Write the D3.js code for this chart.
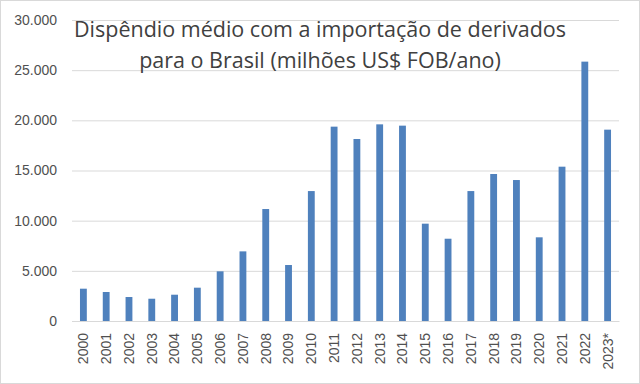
<!DOCTYPE html>
<html>
<head>
<meta charset="utf-8">
<script src="https://cdn.jsdelivr.net/npm/d3@7"></script>
<style>
  body { margin: 0; background: #fff; }
  svg { display: block; }
</style>
</head>
<body>
<svg id="chart" width="640" height="384"></svg>
<script>
// data
var years = ["2000", "2001", "2002", "2003", "2004", "2005", "2006", "2007", "2008", "2009", "2010", "2011",
             "2012", "2013", "2014", "2015", "2016", "2017", "2018", "2019", "2020", "2021", "2022", "2023*"];
var spend = [3220, 2890, 2390, 2220, 2620, 3320, 4950, 6940, 11160, 5580, 12950, 19370,
             18140, 19600, 19470, 9700, 8200, 12950, 14650, 14050, 8340, 15380, 25850, 19070];
var yTicks = [0, 5000, 10000, 15000, 20000, 25000, 30000];
var titleLines = ["Dispêndio médio com a importação de derivados", "para o Brasil (milhões US$ FOB/ano)"];

var svg = d3.select("#chart");
var W = 640, H = 384;
var m = { left: 72, right: 21, top: 20, bottom: 63 };

// outer chart border
svg.append("rect")
    .attr("x", 0.5).attr("y", 0.5)
    .attr("width", W - 1).attr("height", H - 1)
    .attr("fill", "#fff").attr("stroke", "#d9d9d9");

var x = d3.scaleBand().domain(years).range([m.left, W - m.right]).paddingInner(0.7).paddingOuter(0.35);
var y = d3.scaleLinear().domain([0, 30000]).range([H - m.bottom, m.top]);

var fmt = function (d) { return d === 0 ? "0" : d3.format(",")(d).replace(/,/g, "."); };

// gridlines + y labels
var yAxis = svg.append("g")
    .attr("transform", "translate(" + m.left + ",0)")
    .call(d3.axisLeft(y).tickValues(yTicks).tickSize(-(W - m.left - m.right)).tickPadding(15).tickFormat(fmt));
yAxis.select(".domain").remove();
yAxis.selectAll("line").attr("stroke", "#d9d9d9");
yAxis.selectAll("text")
    .attr("fill", "#505050")
    .style("font-family", "'Liberation Sans', Arial, sans-serif")
    .style("font-size", "14px");

// bars
svg.append("g").selectAll("rect")
    .data(spend)
    .enter().append("rect")
    .attr("x", function (d, i) { return x(years[i]); })
    .attr("y", function (d) { return y(d); })
    .attr("width", x.bandwidth())
    .attr("height", function (d) { return y(0) - y(d); })
    .attr("fill", "#4f81bd");

// x axis
var xAxis = svg.append("g")
    .attr("transform", "translate(0," + y(0) + ")")
    .call(d3.axisBottom(x).tickSize(0).tickPadding(0));
xAxis.select(".domain").attr("stroke", "#d9d9d9");
xAxis.selectAll("text")
    .attr("fill", "#505050")
    .attr("transform", "rotate(-90)")
    .attr("x", -12).attr("y", 0).attr("dy", "0.35em")
    .style("text-anchor", "end")
    .style("font-family", "'Liberation Sans', Arial, sans-serif")
    .style("font-size", "14px");

// title
svg.append("g").selectAll("text")
    .data(titleLines)
    .enter().append("text")
    .attr("x", 320)
    .attr("y", function (d, i) { return 37 + i * 31; })
    .attr("text-anchor", "middle")
    .attr("fill", "#404040")
    .style("font-family", "'Open Sans', sans-serif")
    .style("font-size", "21.5px")
    .text(function (d) { return d; });
</script>
</body>
</html>
